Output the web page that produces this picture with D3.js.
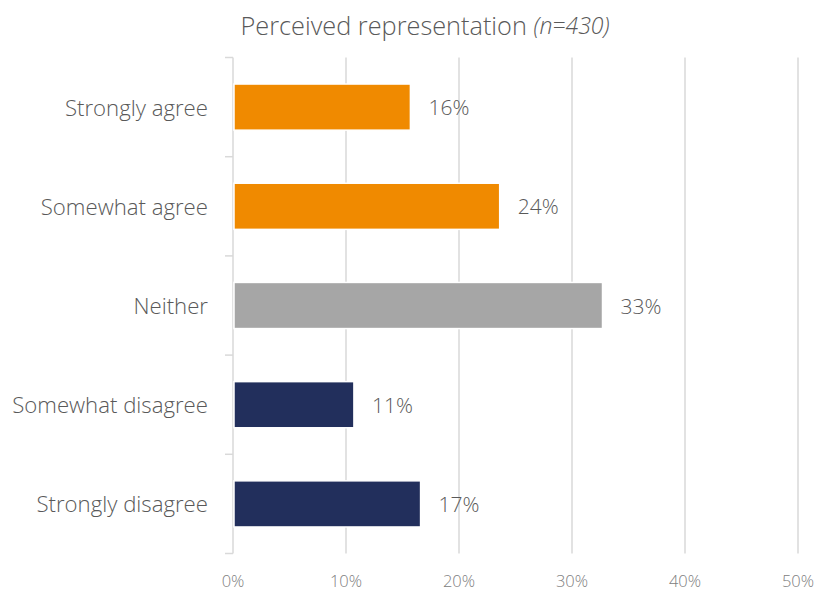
<!DOCTYPE html>
<html>
<head>
<meta charset="utf-8">
<script src="https://cdn.jsdelivr.net/npm/d3@7"></script>
<style>
  html, body { margin: 0; padding: 0; background: #fff; }
  svg text { font-family: "Segoe UI", "Open Sans", "Noto Sans", sans-serif; font-weight: 300; }
</style>
</head>
<body>
<svg id="chart" width="816" height="590"></svg>
<script>
// Survey responses: share of respondents per answer
const categories = ["Strongly agree", "Somewhat agree", "Neither", "Somewhat disagree", "Strongly disagree"];
const shares = [0.157, 0.236, 0.327, 0.107, 0.166];
const groups = ["agree", "agree", "neutral", "disagree", "disagree"];
const xTicks = [0, 0.1, 0.2, 0.3, 0.4, 0.5];
const titleMain = "Perceived representation";
const titleNote = "(n=430)";

const colors = { agree: "#F08A00", neutral: "#A6A6A6", disagree: "#222F5C" };

const svg = d3.select("#chart");
const margin = { top: 57.5, right: 18, bottom: 36.5, left: 233 };
const W = 816, H = 590;

const x = d3.scaleLinear().domain([0, 0.5]).range([margin.left, W - margin.right]);
const y = d3.scaleBand().domain(categories).range([margin.top, H - margin.bottom]).paddingInner(0.535).paddingOuter(0.2675);

// vertical gridlines
svg.append("g")
  .selectAll("line")
  .data(xTicks.slice(1))
  .join("line")
  .attr("x1", d => x(d)).attr("x2", d => x(d))
  .attr("y1", margin.top).attr("y2", H - margin.bottom)
  .attr("stroke", "#d9d9d9").attr("stroke-width", 1.5);

// category axis with ticks on band boundaries
const axisG = svg.append("g");
axisG.append("line")
  .attr("x1", x(0)).attr("x2", x(0))
  .attr("y1", margin.top).attr("y2", H - margin.bottom)
  .attr("stroke", "#d9d9d9").attr("stroke-width", 1.5);
const step = y.step();
const boundaries = d3.range(categories.length + 1).map(i => margin.top + i * step);
axisG.selectAll("line.tick")
  .data(boundaries)
  .join("line")
  .attr("class", "tick")
  .attr("x1", x(0) - 8).attr("x2", x(0))
  .attr("y1", d => d).attr("y2", d => d)
  .attr("stroke", "#d9d9d9").attr("stroke-width", 1.5);

axisG.selectAll("text.cat")
  .data(categories)
  .join("text")
  .attr("class", "cat")
  .attr("x", x(0) - 25)
  .attr("y", d => y(d) + y.bandwidth() / 2)
  .attr("text-anchor", "end")
  .attr("dominant-baseline", "central")
  .attr("font-size", 22.2)
  .attr("fill", "#595959")
  .text(d => d);

// bars
svg.append("g")
  .selectAll("rect")
  .data(categories)
  .join("rect")
  .attr("x", x(0) + 1)
  .attr("y", d => y(d))
  .attr("width", (d, i) => x(shares[i]) - x(0) - 1)
  .attr("height", y.bandwidth())
  .attr("fill", (d, i) => colors[groups[i]])
  .attr("stroke", "#fff").attr("stroke-width", 1.5);

// value labels
const fmt = d3.format(".0%");
svg.append("g")
  .selectAll("text")
  .data(categories)
  .join("text")
  .attr("x", (d, i) => x(shares[i]) + 18)
  .attr("y", d => y(d) + y.bandwidth() / 2)
  .attr("dominant-baseline", "central")
  .attr("font-size", 21)
  .attr("fill", "#595959")
  .text((d, i) => fmt(shares[i]));

// percentage axis labels
svg.append("g")
  .selectAll("text")
  .data(xTicks)
  .join("text")
  .attr("x", d => x(d))
  .attr("y", 580)
  .attr("text-anchor", "middle")
  .attr("dominant-baseline", "central")
  .attr("font-size", 16.5)
  .attr("fill", "#808080")
  .text(d => fmt(d));

// title
const title = svg.append("text")
  .attr("x", 425)
  .attr("y", 25)
  .attr("text-anchor", "middle")
  .attr("dominant-baseline", "central")
  .attr("fill", "#595959");
title.append("tspan").attr("font-size", 25.3).text(titleMain + " ");
title.append("tspan").attr("font-size", 23).attr("font-style", "italic").text(titleNote);
</script>
</body>
</html>
